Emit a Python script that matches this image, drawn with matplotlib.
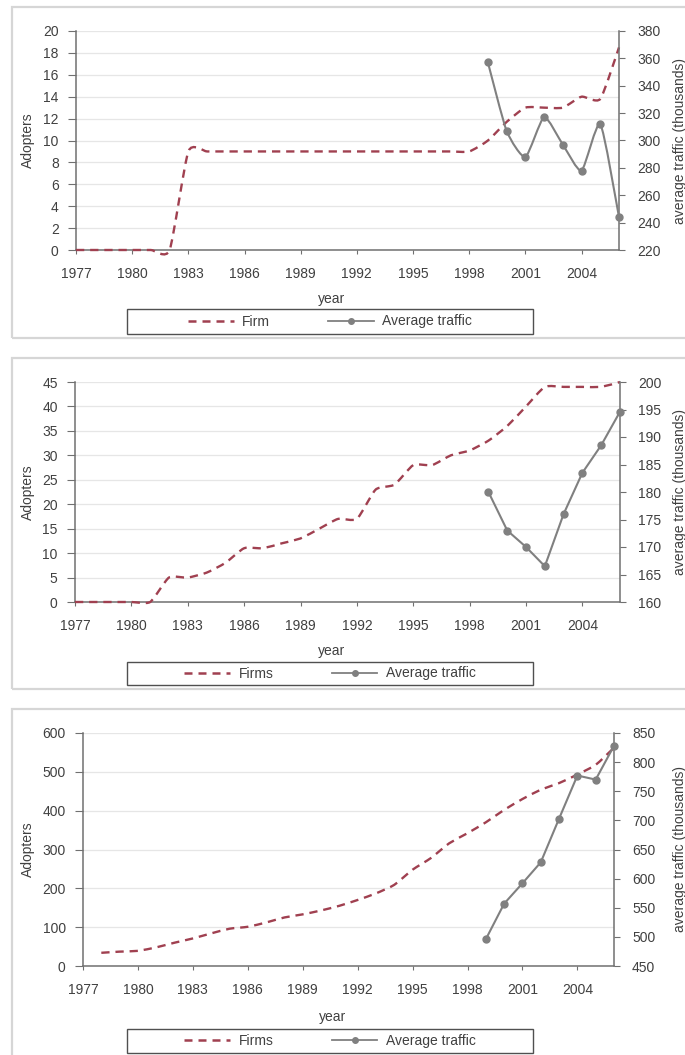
import numpy as np
import matplotlib.pyplot as plt
from matplotlib.path import Path
from matplotlib.patches import PathPatch, Rectangle
from matplotlib.lines import Line2D

plt.rcParams['font.family'] = ['Liberation Sans', 'DejaVu Sans']

# -------------------------
# data
# -------------------------
years = list(range(1977, 2007))
traffic_years = list(range(1999, 2007))
xticks = list(range(1977, 2005, 3))

firm_top = [0, 0, 0, 0, 0, 0,
            9, 9, 9, 9, 9, 9, 9, 9, 9, 9, 9, 9, 9, 9, 9, 9,
            10, 11.7, 13, 13, 13, 14, 13.8, 18.5]
traffic_top = [357, 307, 288, 317, 297, 278, 312, 244]

firms_mid = [0, 0, 0, 0, 0, 5, 5, 6, 8, 11, 11, 12, 13, 15, 17, 17,
             23, 24, 28, 28, 30, 31, 33, 36, 40, 44, 44, 44, 44, 45]
traffic_mid = [180, 173, 170, 166.5, 176, 183.5, 188.5, 194.6]

firms_bottom_years = list(range(1978, 2007))
firms_bottom = [34, 37, 39, 48, 60, 71, 84, 96, 101, 112, 125, 133, 143, 155,
                170, 187, 209, 248, 278, 316, 342, 370, 402, 430, 454, 471,
                493, 518, 562]
traffic_bottom = [496, 557, 592, 628, 703, 777, 770, 828]

RED = '#A04050'
GREY = '#808080'
TXT = '#404040'
W, H = 685, 1055

fig = plt.figure(figsize=(W / 100, H / 100), dpi=100)


def smooth_path(x, y, k=0.1):
    # Excel-style smoothed line: one cubic bezier per segment, through every point
    pts = np.column_stack([np.asarray(x, float), np.asarray(y, float)])
    ext = np.vstack([pts[0], pts, pts[-1]])
    verts = [pts[0]]
    codes = [Path.MOVETO]
    for i in range(len(pts) - 1):
        p0, p1, p2, p3 = ext[i], ext[i + 1], ext[i + 2], ext[i + 3]
        verts += [p1 + (p2 - p0) * k, p2 - (p3 - p1) * k, p2]
        codes += [Path.CURVE4] * 3
    return Path(verts, codes)


def fig_rect(x0, y0, x1, y1):
    return [x0 / W, 1 - y1 / H, (x1 - x0) / W, (y1 - y0) / H]


def draw_panel(box, frame, legbox, fx, fy, flabel, ylim, ystep, tlim, tstep,
               smooth_traffic, tx, ty):
    # chart area frame
    fr = fig_rect(*frame)
    fig.patches.append(Rectangle((fr[0], fr[1]), fr[2], fr[3], transform=fig.transFigure,
                                 fill=False, edgecolor='#D6D6D6', lw=1.6))
    ax = fig.add_axes(fig_rect(*box))
    ax2 = ax.twinx()

    ax.set_xlim(1977, 2006)
    ax.set_ylim(*ylim)
    ax.set_yticks(np.arange(ylim[0], ylim[1] + 0.1, ystep))
    ax.set_xticks(xticks)
    ax2.set_ylim(*tlim)
    ax2.set_yticks(np.arange(tlim[0], tlim[1] + 0.1, tstep))
    ax.grid(axis='y', color='#E6E6E6', lw=0.9)
    ax.set_axisbelow(True)

    for a in (ax, ax2):
        a.spines['top'].set_visible(False)
        for s in ('left', 'right', 'bottom'):
            a.spines[s].set_color('#707070')
            a.spines[s].set_linewidth(1.1)
    ax.spines['right'].set_visible(False)
    ax2.spines['left'].set_visible(False)
    ax2.spines['bottom'].set_visible(False)

    ax.tick_params(axis='y', length=5.5, pad=7, color='#707070', labelcolor=TXT, labelsize=10)
    ax.tick_params(axis='x', length=3, pad=9, color='#707070', labelcolor=TXT, labelsize=10)
    ax2.tick_params(axis='y', length=4, pad=9, color='#707070', labelcolor=TXT, labelsize=10)

    ax.set_ylabel('Adopters', fontsize=10, color=TXT)
    ax.yaxis.set_label_coords((35 - box[0]) / (box[2] - box[0]), 0.5)
    ax2.set_ylabel('average traffic (thousands)', fontsize=10, color=TXT)
    ax2.yaxis.set_label_coords((673 - box[0]) / (box[2] - box[0]), 0.5)
    ax.set_xlabel('year', fontsize=10, color=TXT)
    ax.xaxis.set_label_coords(0.47, -0.19)

    ax.add_patch(PathPatch(smooth_path(fx, fy), fill=False, edgecolor=RED, lw=1.7,
                           linestyle=(0, (3.5, 2.5)), clip_on=False, zorder=3))
    if smooth_traffic:
        ax2.add_patch(PathPatch(smooth_path(tx, ty), fill=False, edgecolor=GREY, lw=1.5,
                                clip_on=False, zorder=3))
        ax2.plot(tx, ty, linestyle='none', marker='o', ms=5, color=GREY,
                 clip_on=False, zorder=4)
    else:
        ax2.plot(tx, ty, '-o', lw=1.5, ms=5, color=GREY, clip_on=False, zorder=4)

    # legend with its own box
    lr = fig_rect(*legbox)
    fig.patches.append(Rectangle((lr[0], lr[1]), lr[2], lr[3], transform=fig.transFigure,
                                 fill=False, edgecolor='#505050', lw=1.0))
    handles = [Line2D([], [], color=RED, lw=1.8, linestyle=(0, (3.2, 2.4))),
               Line2D([], [], color=GREY, lw=1.3, marker='o', ms=4)]
    fig.legend(handles, [flabel, 'Average traffic'], loc='center',
               bbox_to_anchor=(lr[0] + lr[2] / 2, lr[1] + lr[3] / 2),
               ncol=2, frameon=False, fontsize=10, handlelength=3.3,
               handletextpad=0.6, columnspacing=4.2, labelcolor=TXT)
    return ax, ax2


draw_panel((76, 31, 619, 250), (12, 7, 720, 338), (127, 309, 533, 334),
           years, firm_top, 'Firm', (0, 20), 2, (220, 380), 20,
           True, traffic_years, traffic_top)
draw_panel((75, 382, 620, 602), (12, 358, 720, 689), (127, 662, 533, 685),
           years, firms_mid, 'Firms', (0, 45), 5, (160, 200), 5,
           False, traffic_years, traffic_mid)
draw_panel((83, 733, 614, 966), (12, 709, 720, 1080), (127, 1029, 533, 1053),
           firms_bottom_years, firms_bottom, 'Firms', (0, 600), 100, (450, 850), 50,
           False, traffic_years, traffic_bottom)

fig.savefig('out.png', dpi=100)
